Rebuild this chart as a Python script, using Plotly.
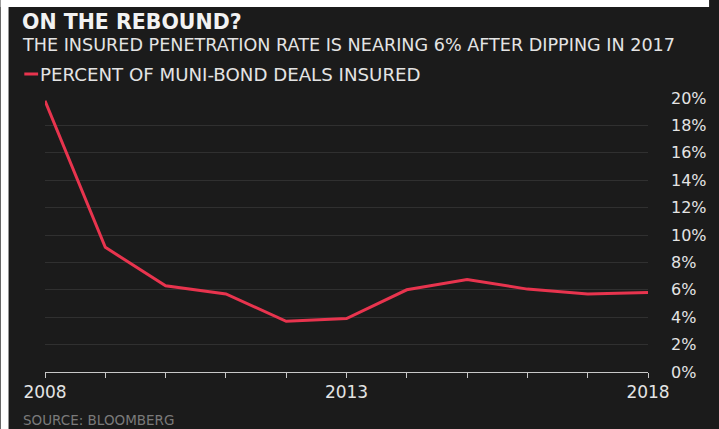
import plotly.graph_objects as go

# Share of municipal-bond deals carrying insurance, by year
years = [2008, 2009, 2010, 2011, 2012, 2013, 2014, 2015, 2016, 2017, 2018]
pct_insured = [19.8, 9.1, 6.3, 5.7, 3.7, 3.9, 6.0, 6.75, 6.05, 5.7, 5.8]

year_labels = ["2008", "", "", "", "", "2013", "", "", "", "", "2018"]
y_ticks = [0, 2, 4, 6, 8, 10, 12, 14, 16, 18, 20]
y_labels = [f"{v}%" for v in y_ticks]

W, H = 719, 429
ML, MR, MT, MB = 45, 62, 98, 57
PW, PH = W - ML - MR, H - MT - MB

BG = "#1b1b1b"
RED = "#e8344e"
TXT = "#e4e4e4"
FONT = "DejaVu Sans, Verdana, sans-serif"


def px(x):
    """Page pixel column -> paper x."""
    return (x - ML) / PW


def py(y):
    """Page pixel row -> paper y."""
    return (H - MB - y) / PH


fig = go.Figure()
fig.add_trace(go.Scatter(
    x=years, y=pct_insured, mode="lines",
    line=dict(color=RED, width=3),
    showlegend=False, hoverinfo="skip",
))

fig.update_layout(
    width=W, height=H,
    paper_bgcolor=BG, plot_bgcolor=BG,
    margin=dict(l=ML, r=MR, t=MT, b=MB),
    font=dict(family=FONT, color=TXT),
    xaxis=dict(
        range=[2008, 2018], tickvals=years, ticktext=year_labels,
        showgrid=False, zeroline=False,
        showline=True, linecolor="#c8c8c8", linewidth=1,
        ticks="outside", ticklen=5, tickcolor="#c8c8c8", tickwidth=1,
        tickfont=dict(size=17, color=TXT),
    ),
    yaxis=dict(
        range=[0, 20], side="right", tickvals=y_ticks, ticktext=y_labels,
        showgrid=True, gridcolor="#303030", gridwidth=1,
        zeroline=False, showline=False, ticks="",
        ticklabelstandoff=22,
        tickfont=dict(size=16, color=TXT),
    ),
)

# Headline, subtitle, series key and source line
fig.add_annotation(
    text="<b>ON THE REBOUND?</b>", xref="paper", yref="paper",
    x=px(21), y=py(22), xanchor="left", yanchor="middle",
    showarrow=False, borderpad=0,
    font=dict(size=20.5, color="#f2f2f2", family=FONT),
)
fig.add_annotation(
    text="THE INSURED PENETRATION RATE IS NEARING 6% AFTER DIPPING IN 2017",
    xref="paper", yref="paper",
    x=px(21), y=py(45), xanchor="left", yanchor="middle",
    showarrow=False, borderpad=0,
    font=dict(size=17.6, color=TXT, family=FONT),
)
fig.add_shape(
    type="line", xref="paper", yref="paper",
    x0=px(24), x1=px(38), y0=py(74), y1=py(74),
    line=dict(color=RED, width=3),
)
fig.add_annotation(
    text="PERCENT OF MUNI-BOND DEALS INSURED", xref="paper", yref="paper",
    x=px(38), y=py(74), xanchor="left", yanchor="middle",
    showarrow=False, font=dict(size=18.2, color=TXT, family=FONT),
)
fig.add_annotation(
    text="SOURCE: BLOOMBERG", xref="paper", yref="paper",
    x=px(21), y=py(420), xanchor="left", yanchor="middle",
    showarrow=False, font=dict(size=13.5, color="#7a7a7a", family=FONT),
)

# Thin white border along the top and left edges of the graphic
fig.add_shape(type="rect", xref="paper", yref="paper",
              x0=px(0), x1=px(W), y0=py(0), y1=py(7),
              fillcolor="white", line=dict(width=0), layer="above")
fig.add_shape(type="rect", xref="paper", yref="paper",
              x0=px(0), x1=px(8), y0=py(0), y1=py(H),
              fillcolor="white", line=dict(width=0), layer="above")

fig.write_html("out.html")
